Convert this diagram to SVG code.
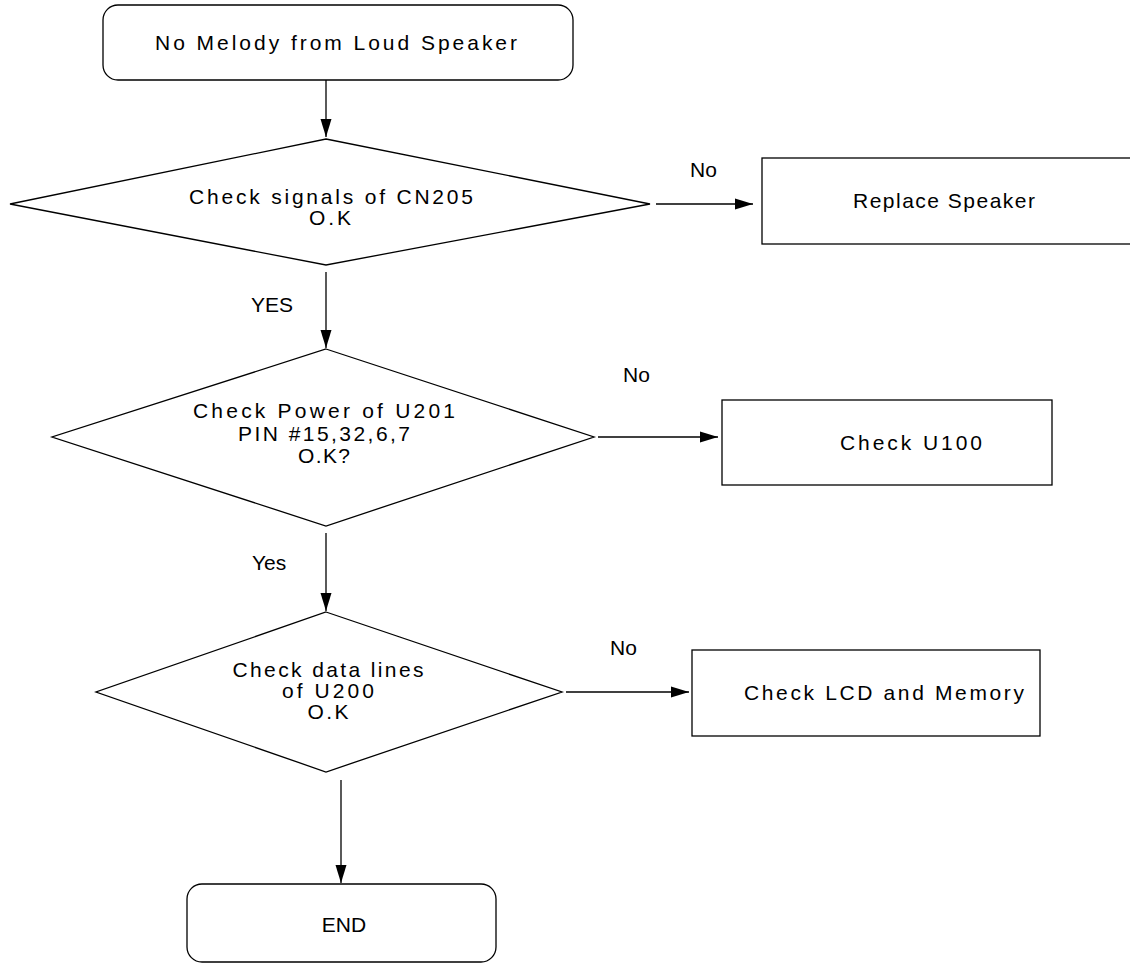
<svg xmlns="http://www.w3.org/2000/svg" width="1130" height="964" viewBox="0 0 1130 964">
<defs>
<marker id="ah" markerWidth="18" markerHeight="12" refX="18" refY="6" orient="auto" markerUnits="userSpaceOnUse">
<path d="M0,0.5 L18,6 L0,11.5 Z" fill="#000"/>
</marker>
<style>
.s{fill:#fff;stroke:#000;stroke-width:1.3}
.t{font-family:"Liberation Sans",Arial,sans-serif;font-size:21px;fill:#000;text-anchor:middle}
.l{font-family:"Liberation Sans",Arial,sans-serif;font-size:21px;fill:#000}
.c{stroke:#000;stroke-width:1.3;fill:none}
</style>
</defs>
<rect width="1130" height="964" fill="#fff"/>
<g id="connectors">
<line class="c" x1="326" y1="80" x2="326" y2="137" marker-end="url(#ah)"/>
<line class="c" x1="656" y1="204" x2="753" y2="204" marker-end="url(#ah)"/>
<line class="c" x1="326" y1="272" x2="326" y2="348" marker-end="url(#ah)"/>
<line class="c" x1="598" y1="437" x2="718" y2="437" marker-end="url(#ah)"/>
<line class="c" x1="326" y1="533" x2="326" y2="611" marker-end="url(#ah)"/>
<line class="c" x1="566" y1="692" x2="689" y2="692" marker-end="url(#ah)"/>
<line class="c" x1="341" y1="780" x2="341" y2="883" marker-end="url(#ah)"/>
<text class="l" x="690" y="177">No</text>
<text class="l" x="251" y="312">YES</text>
<text class="l" x="623" y="382">No</text>
<text class="l" x="252" y="570">Yes</text>
<text class="l" x="610" y="655">No</text>
</g>
<g id="start">
<rect class="s" x="103" y="5" width="470" height="75" rx="15"/>
<text class="t" x="336" y="50" textLength="362" lengthAdjust="spacing">No Melody from Loud Speaker</text>
</g>
<g id="d1">
<polygon class="s" points="326,139 650,204 326,265 10,204"/>
<text class="t" x="331" y="204" textLength="284" lengthAdjust="spacing">Check signals of CN205</text>
<text class="t" x="330" y="225" textLength="42" lengthAdjust="spacing">O.K</text>
</g>
<g id="replace">
<rect class="s" x="762" y="158" width="380" height="86"/>
<text class="t" x="944" y="208" textLength="182" lengthAdjust="spacing">Replace Speaker</text>
</g>
<g id="d2">
<polygon class="s" points="326,349 594,437 326,526 52,437"/>
<text class="t" x="324" y="418" textLength="262" lengthAdjust="spacing">Check Power of U201</text>
<text class="t" x="324" y="441" textLength="172" lengthAdjust="spacing">PIN #15,32,6,7</text>
<text class="t" x="324" y="463" textLength="52" lengthAdjust="spacing">O.K?</text>
</g>
<g id="u100">
<rect class="s" x="722" y="400" width="330" height="85"/>
<text class="t" x="911" y="450" textLength="142" lengthAdjust="spacing">Check U100</text>
</g>
<g id="d3">
<polygon class="s" points="326,612 562,692 326,772 96,692"/>
<text class="t" x="328" y="677" textLength="191" lengthAdjust="spacing">Check data lines</text>
<text class="t" x="328" y="698" textLength="92" lengthAdjust="spacing">of U200</text>
<text class="t" x="328" y="719" textLength="41" lengthAdjust="spacing">O.K</text>
</g>
<g id="lcd">
<rect class="s" x="692" y="650" width="348" height="86"/>
<text class="t" x="884" y="700" textLength="280" lengthAdjust="spacing">Check LCD and Memory</text>
</g>
<g id="end">
<rect class="s" x="187" y="884" width="309" height="78" rx="15"/>
<text class="t" x="344" y="932">END</text>
</g>
</svg>
